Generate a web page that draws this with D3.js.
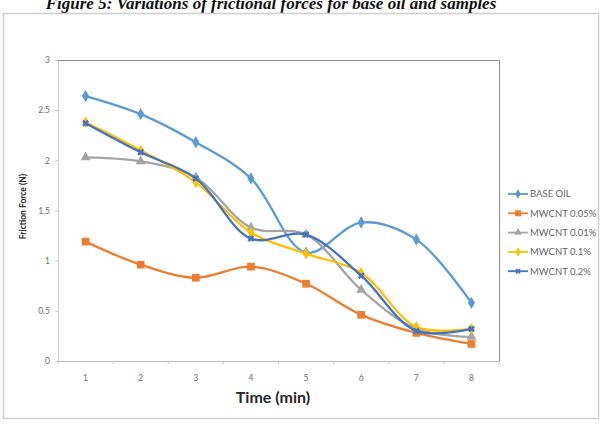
<!DOCTYPE html>
<html>
<head>
<meta charset="utf-8">
<script src="https://cdn.jsdelivr.net/npm/d3@7"></script>
<style>
  body { margin: 0; background: #fff; }
  svg { display: block; }
</style>
</head>
<body>
<script>
// chart values
var times = ["1", "2", "3", "4", "5", "6", "7", "8"];
var yTicks = [0, 0.5, 1, 1.5, 2, 2.5, 3];
var seriesNames = ["BASE OIL", "MWCNT 0.05%", "MWCNT 0.01%", "MWCNT 0.1%", "MWCNT 0.2%"];
var baseOil   = [2.64, 2.46, 2.18, 1.82, 1.08, 1.38, 1.21, 0.58];
var mwcnt005  = [1.19, 0.96, 0.83, 0.94, 0.77, 0.46, 0.28, 0.17];
var mwcnt001  = [2.03, 1.99, 1.83, 1.33, 1.26, 0.71, 0.32, 0.24];
var mwcnt01   = [2.38, 2.10, 1.78, 1.28, 1.07, 0.88, 0.34, 0.32];
var mwcnt02   = [2.37, 2.08, 1.82, 1.22, 1.26, 0.85, 0.30, 0.32];

var seriesValues = [baseOil, mwcnt005, mwcnt001, mwcnt01, mwcnt02];
var colors = ["#5b9bd5", "#ed7d31", "#a5a5a5", "#ffc000", "#4472c4"];
var symbols = [d3.symbolDiamond, d3.symbolSquare, d3.symbolTriangle, d3.symbolDiamond, d3.symbolCross];
var symSizes = [44, 60, 44, 40, 30];

var W = 603, H = 424;
var margin = {top: 60, right: 104, bottom: 63, left: 58},
    width = W - margin.left - margin.right,
    height = H - margin.top - margin.bottom;

var font = "Lato, 'Liberation Sans', sans-serif";

var svg = d3.select("body").append("svg")
    .attr("width", W)
    .attr("height", H);

// figure caption (cut by the top of the image, as in the scan)
svg.append("text")
    .attr("x", 271)
    .attr("y", 9)
    .attr("text-anchor", "middle")
    .style("font-family", "'Liberation Serif', 'Times New Roman', serif")
    .style("font-weight", "bold")
    .style("font-style", "italic")
    .style("font-size", "17px")
    .attr("fill", "#111")
    .text("Figure 5: Variations of frictional forces for base oil and samples");

// chart frame
svg.append("rect")
    .attr("x", 3.5).attr("y", 13.5)
    .attr("width", 595).attr("height", 405)
    .attr("fill", "#fff")
    .attr("stroke", "#cfcfcf")
    .attr("stroke-width", 1.5);

var g = svg.append("g")
    .attr("transform", "translate(" + margin.left + "," + margin.top + ")");

var x = d3.scaleBand()
    .domain(times)
    .range([0, width]);

var y = d3.scaleLinear()
    .domain([0, 3])
    .range([height, 0]);

var yAxis = d3.axisLeft(y)
    .tickValues(yTicks)
    .tickSize(3)
    .tickPadding(5)
    .tickFormat(function(d) { return d; });

var yg = g.append("g")
    .attr("class", "y axis")
    .call(yAxis);
yg.select(".domain").attr("stroke", "#d0d0d0");
yg.selectAll(".tick line").attr("stroke", "#c8c8c8");

var xAxis = d3.axisBottom(x)
    .tickSize(0)
    .tickPadding(14);

var xg = g.append("g")
    .attr("class", "x axis")
    .attr("transform", "translate(0," + height + ")")
    .call(xAxis);
xg.select(".domain").attr("stroke", "#bdbdbd");

// tick marks between categories
xg.selectAll(".bound")
    .data(d3.range(times.length + 1))
    .enter().append("line")
    .attr("class", "bound")
    .attr("x1", function(i) { return i * x.bandwidth(); })
    .attr("x2", function(i) { return i * x.bandwidth(); })
    .attr("y1", 0)
    .attr("y2", 3)
    .attr("stroke", "#c8c8c8");

// plot area border (top and right)
g.append("path")
    .attr("d", "M0,0.5H" + (width + 0.5) + "V" + height)
    .attr("fill", "none")
    .attr("stroke", "#8a8a8a")
    .attr("stroke-width", 1);

svg.selectAll(".axis text")
    .style("font-family", font)
    .style("font-size", "8.5px")
    .attr("fill", "#6e6e6e");

// axis titles
g.append("text")
    .attr("x", 215)
    .attr("y", height + 42)
    .attr("text-anchor", "middle")
    .style("font-family", font)
    .style("font-weight", "bold")
    .style("font-size", "16px")
    .attr("fill", "#262626")
    .text("Time (min)");

g.append("text")
    .attr("transform", "translate(-32," + (height / 2 - 4) + ") rotate(-90)")
    .attr("text-anchor", "middle")
    .style("font-family", font)
    .style("font-weight", "bold")
    .style("font-size", "8.5px")
    .attr("fill", "#262626")
    .text("Friction Force (N)");

var line = d3.line()
    .x(function(d, i) { return x(times[i]) + x.bandwidth() / 2; })
    .y(function(d) { return y(d); })
    .curve(d3.curveCatmullRom.alpha(0.5));

var series = g.selectAll(".series")
    .data(seriesValues)
    .enter().append("g")
    .attr("class", "series");

series.append("path")
    .attr("d", function(d) { return line(d); })
    .attr("fill", "none")
    .attr("stroke", function(d, i) { return colors[i]; })
    .attr("stroke-width", 2.3);

series.each(function(vals, si) {
  d3.select(this).selectAll(".pt")
      .data(vals)
      .enter().append("path")
      .attr("class", "pt")
      .attr("transform", function(d, i) {
        return "translate(" + (x(times[i]) + x.bandwidth() / 2) + "," + y(d) + ")" +
          (si === 4 ? " rotate(45)" : "");
      })
      .attr("d", d3.symbol().type(symbols[si]).size(symSizes[si]))
      .attr("fill", colors[si]);
});

// legend
var legend = svg.append("g")
    .attr("transform", "translate(508,194)");

var item = legend.selectAll(".item")
    .data(seriesNames)
    .enter().append("g")
    .attr("class", "item")
    .attr("transform", function(d, i) { return "translate(0," + (i * 19.3) + ")"; });

item.append("line")
    .attr("x1", 0).attr("x2", 20)
    .attr("stroke", function(d, i) { return colors[i]; })
    .attr("stroke-width", 1.8);

item.append("path")
    .attr("transform", function(d, i) { return "translate(10,0)" + (i === 4 ? " rotate(45)" : ""); })
    .attr("d", function(d, i) { return d3.symbol().type(symbols[i]).size(symSizes[i] * 0.6)(); })
    .attr("fill", function(d, i) { return colors[i]; });

item.append("text")
    .attr("x", 22)
    .attr("dy", "0.35em")
    .style("font-family", font)
    .style("font-size", "9.5px")
    .attr("fill", "#666")
    .text(function(d) { return d; });
</script>
</body>
</html>
